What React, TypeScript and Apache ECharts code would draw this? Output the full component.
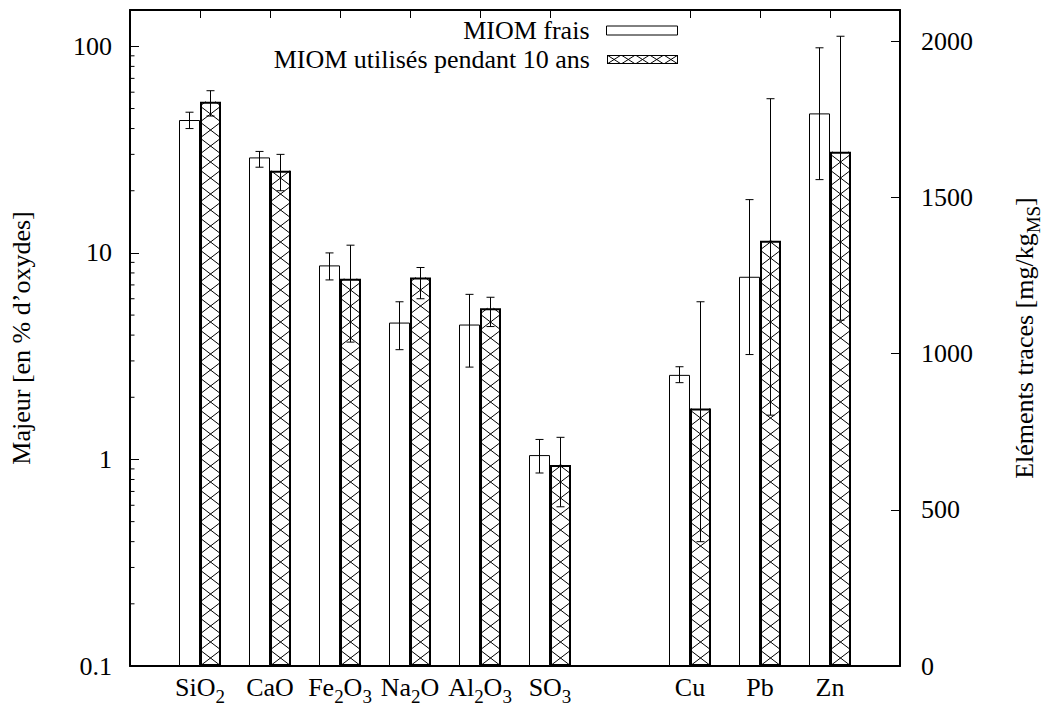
import React, { useEffect, useRef } from 'react';
import * as echarts from 'echarts';

// ---- data ----
const categories = ['', 'SiO2', 'CaO', 'Fe2O3', 'Na2O', 'Al2O3', 'SO3', '', 'Cu', 'Pb', 'Zn', ''];
const oxideIdx = [1, 2, 3, 4, 5, 6];
const metalIdx = [8, 9, 10];

const fraisOx = [44, 29, 8.7, 4.6, 4.5, 1.05];
const fraisOxLow = [40, 26, 7.4, 3.4, 2.8, 0.86];
const fraisOxHigh = [48, 31, 10, 5.8, 6.3, 1.25];
const usedOx = [54, 25, 7.5, 7.6, 5.4, 0.94];
const usedOxLow = [46, 20, 3.7, 6.0, 4.4, 0.59];
const usedOxHigh = [61, 30, 10.9, 8.5, 6.1, 1.28];

const fraisMet = [932, 1246, 1769];
const fraisMetLow = [907, 997, 1557];
const fraisMetHigh = [958, 1493, 1979];
const usedMet = [824, 1361, 1646];
const usedMetLow = [398, 803, 1107];
const usedMetHigh = [1166, 1816, 2016];

const minorTickValues = [0.2, 0.3, 0.4, 0.5, 0.6, 0.7, 0.8, 0.9, 2, 3, 4, 5, 6, 7, 8, 9, 20, 30, 40, 50, 60, 70, 80, 90];

const NAME_FRAIS = 'MIOM frais';
const NAME_USED = 'MIOM utilisés pendant 10 ans';

const FONT = 'Liberation Serif';
const FS = 26;

function fullSeries(idx: number[], vals: number[]) {
  const out: any[] = categories.map(() => '-');
  idx.forEach((i, k) => (out[i] = vals[k]));
  return out;
}
function pairs(idx: number[], vals: number[]) {
  return idx.map((i, k) => [i, vals[k]]);
}
function triples(idx: number[], lo: number[], hi: number[]) {
  return idx.map((i, k) => [i, lo[k], hi[k]]);
}

const lineStyle = { stroke: '#000', lineWidth: 1 };

function hatchItem(base: number) {
  return (params: any, api: any) => {
    const idx = api.value(0);
    const v = api.value(1);
    const top = api.coord([idx, v]);
    const bot = api.coord([idx, base]);
    const step = Math.abs(api.coord([1, v])[0] - api.coord([0, v])[0]);
    const w = step * 0.3;
    const x0 = top[0];
    const x1 = x0 + w;
    const yT = top[1];
    const yB = bot[1];
    const h = 16;
    const children: any[] = [];
    for (let y = yB; y > yT + 0.01; y -= h) {
      const yN = y - h;
      if (yN >= yT) {
        children.push({ type: 'line', shape: { x1: x0, y1: y, x2: x1, y2: yN }, style: lineStyle });
        children.push({ type: 'line', shape: { x1: x1, y1: y, x2: x0, y2: yN }, style: lineStyle });
      } else {
        const t = (y - yT) / h;
        children.push({ type: 'line', shape: { x1: x0, y1: y, x2: x0 + t * w, y2: yT }, style: lineStyle });
        children.push({ type: 'line', shape: { x1: x1, y1: y, x2: x1 - t * w, y2: yT }, style: lineStyle });
      }
    }
    return { type: 'group', children, silent: true };
  };
}

function errItem(sign: number) {
  return (params: any, api: any) => {
    const idx = api.value(0);
    const lo = api.coord([idx, api.value(1)]);
    const hi = api.coord([idx, api.value(2)]);
    const step = Math.abs(api.coord([1, api.value(1)])[0] - api.coord([0, api.value(1)])[0]);
    const x = lo[0] + sign * step * 0.15;
    const cap = 4;
    return {
      type: 'group',
      silent: true,
      children: [
        { type: 'line', shape: { x1: x, y1: lo[1], x2: x, y2: hi[1] }, style: lineStyle },
        { type: 'line', shape: { x1: x - cap, y1: lo[1], x2: x + cap, y2: lo[1] }, style: lineStyle },
        { type: 'line', shape: { x1: x - cap, y1: hi[1], x2: x + cap, y2: hi[1] }, style: lineStyle },
      ],
    };
  };
}

function minorTickItem(params: any, api: any) {
  const p = api.coord([0, api.value(0)]);
  return { type: 'line', silent: true, shape: { x1: p[0], y1: p[1], x2: p[0] + 4.5, y2: p[1] }, style: lineStyle };
}

function hatchIcon(): string {
  const W = 71, H = 9, n = 5;
  const cw = W / n;
  let lines = '';
  for (let i = 0; i < n; i++) {
    const a = i * cw, b = (i + 1) * cw;
    lines += `<line x1="${a}" y1="0" x2="${b}" y2="${H}" stroke="black" stroke-width="1"/>`;
    lines += `<line x1="${b}" y1="0" x2="${a}" y2="${H}" stroke="black" stroke-width="1"/>`;
  }
  const svg = `<svg xmlns="http://www.w3.org/2000/svg" width="${W}" height="${H}" viewBox="0 0 ${W} ${H}"><rect x="0.5" y="0.5" width="${W - 1}" height="${H - 1}" fill="white" stroke="black" stroke-width="1"/>${lines}</svg>`;
  return 'image://data:image/svg+xml;charset=utf-8,' + encodeURIComponent(svg);
}

const subFormat = (s: string) => {
  if (!s) return '';
  return s
    .split(/(\d+)/)
    .filter((p) => p !== '')
    .map((p) => (/^\d+$/.test(p) ? `{s|${p}}` : `{a|${p}}`))
    .join('');
};

const richSub = {
  a: { fontSize: FS, fontFamily: FONT, color: '#000', lineHeight: 28, verticalAlign: 'top' },
  s: { fontSize: 19, fontFamily: FONT, color: '#000', lineHeight: 19, padding: [13, 0, 0, 0], verticalAlign: 'top' },
};

const tickShow = (index: number, value: string) => value !== '';

export default function App() {
  const ref = useRef<HTMLDivElement>(null);
  useEffect(() => {
    document.body.style.margin = '0';
    if (!ref.current) return;
    const chart = echarts.init(ref.current, undefined, { renderer: 'svg' });
    const legendCommon = {
      orient: 'vertical',
      align: 'right',
      right: 373,
      padding: 0,
      itemWidth: 71,
      itemHeight: 9,
      selectedMode: false,
      textStyle: { fontSize: FS, fontFamily: FONT, color: '#000', padding: [0, 12, 0, 0], lineHeight: 24 },
    };
    const option: any = {
      animation: false,
      backgroundColor: '#fff',
      textStyle: { fontFamily: FONT, color: '#000' },
      grid: { left: 130, right: 140, top: 10, bottom: 43, containLabel: false },
      legend: [
        {
          ...legendCommon,
          top: 17.5,
          data: [{ name: NAME_FRAIS, icon: 'rect', itemStyle: { color: '#fff', borderColor: '#000', borderWidth: 1 } }],
        },
        {
          ...legendCommon,
          top: 46.5,
          data: [{ name: NAME_USED, icon: hatchIcon() }],
        },
      ],
      xAxis: [
        {
          type: 'category',
          position: 'bottom',
          data: categories,
          boundaryGap: false,
          axisLine: { show: true, lineStyle: { color: '#000', width: 2 } },
          axisTick: { show: true, inside: true, length: 8, interval: tickShow, lineStyle: { color: '#000', width: 1 } },
          axisLabel: {
            interval: 0,
            margin: 8,
            fontFamily: FONT,
            fontSize: FS,
            color: '#000',
            formatter: (v: string) => subFormat(v),
            rich: richSub,
          },
          splitLine: { show: false },
        },
        {
          type: 'category',
          position: 'top',
          data: categories,
          boundaryGap: false,
          axisLine: { show: true, lineStyle: { color: '#000', width: 2 } },
          axisTick: { show: true, inside: true, length: 8, interval: tickShow, lineStyle: { color: '#000', width: 1 } },
          axisLabel: { show: false },
          splitLine: { show: false },
        },
      ],
      yAxis: [
        {
          type: 'log',
          logBase: 10,
          min: 0.1,
          max: 150,
          startValue: 0.1,
          position: 'left',
          name: 'Majeur [en % d\u2019oxydes]',
          nameLocation: 'middle',
          nameRotate: 90,
          nameGap: 96,
          nameTextStyle: { fontSize: FS, fontFamily: FONT, color: '#000' },
          axisLine: { show: true, lineStyle: { color: '#000', width: 2 } },
          axisTick: { show: true, inside: true, length: 9, lineStyle: { color: '#000', width: 1 } },
          minorTick: { show: false },
          axisLabel: {
            showMaxLabel: false,
            margin: 18,
            fontSize: FS,
            fontFamily: FONT,
            color: '#000',
            formatter: (v: number) => String(Number(v.toPrecision(3))),
          },
          splitLine: { show: false },
        },
        {
          type: 'value',
          min: 0,
          max: 2100,
          interval: 500,
          position: 'right',
          name: '{a|Eléments traces [mg/kg}{s|MS}{a|]}',
          nameLocation: 'middle',
          nameRotate: 90,
          nameGap: 111,
          nameTextStyle: { fontSize: FS, fontFamily: FONT, color: '#000', rich: richSub },
          axisLine: { show: true, lineStyle: { color: '#000', width: 2 } },
          axisTick: { show: true, inside: true, length: 9, lineStyle: { color: '#000', width: 1 } },
          axisLabel: {
            showMaxLabel: false,
            margin: 21,
            fontSize: FS,
            fontFamily: FONT,
            color: '#000',
            formatter: (v: number) => String(v),
          },
          splitLine: { show: false },
        },
      ],
      series: [
        {
          name: NAME_FRAIS,
          type: 'bar',
          xAxisIndex: 0,
          yAxisIndex: 0,
          barWidth: '30%',
          barGap: '0%',
          data: fullSeries(oxideIdx, fraisOx),
          itemStyle: { color: '#fff', borderColor: '#000', borderWidth: 1 },
          emphasis: { disabled: true },
        },
        {
          name: NAME_USED,
          type: 'bar',
          xAxisIndex: 0,
          yAxisIndex: 0,
          barWidth: '30%',
          barGap: '0%',
          data: fullSeries(oxideIdx, usedOx),
          itemStyle: { color: '#fff', borderColor: '#000', borderWidth: 2 },
          emphasis: { disabled: true },
        },
        {
          name: NAME_FRAIS,
          type: 'bar',
          xAxisIndex: 1,
          yAxisIndex: 1,
          barWidth: '30%',
          barGap: '0%',
          data: fullSeries(metalIdx, fraisMet),
          itemStyle: { color: '#fff', borderColor: '#000', borderWidth: 1 },
          emphasis: { disabled: true },
        },
        {
          name: NAME_USED,
          type: 'bar',
          xAxisIndex: 1,
          yAxisIndex: 1,
          barWidth: '30%',
          barGap: '0%',
          data: fullSeries(metalIdx, usedMet),
          itemStyle: { color: '#fff', borderColor: '#000', borderWidth: 2 },
          emphasis: { disabled: true },
        },
        {
          type: 'custom',
          xAxisIndex: 0,
          yAxisIndex: 0,
          renderItem: hatchItem(0.1),
          data: pairs(oxideIdx, usedOx),
          encode: { x: 0, y: 1 },
          z: 3,
        },
        {
          type: 'custom',
          xAxisIndex: 1,
          yAxisIndex: 1,
          renderItem: hatchItem(0),
          data: pairs(metalIdx, usedMet),
          encode: { x: 0, y: 1 },
          z: 3,
        },
        {
          type: 'custom',
          xAxisIndex: 0,
          yAxisIndex: 0,
          renderItem: errItem(-1),
          data: triples(oxideIdx, fraisOxLow, fraisOxHigh),
          encode: { x: 0, y: [1, 2] },
          z: 4,
        },
        {
          type: 'custom',
          xAxisIndex: 0,
          yAxisIndex: 0,
          renderItem: errItem(1),
          data: triples(oxideIdx, usedOxLow, usedOxHigh),
          encode: { x: 0, y: [1, 2] },
          z: 4,
        },
        {
          type: 'custom',
          xAxisIndex: 1,
          yAxisIndex: 1,
          renderItem: errItem(-1),
          data: triples(metalIdx, fraisMetLow, fraisMetHigh),
          encode: { x: 0, y: [1, 2] },
          z: 4,
        },
        {
          type: 'custom',
          xAxisIndex: 1,
          yAxisIndex: 1,
          renderItem: errItem(1),
          data: triples(metalIdx, usedMetLow, usedMetHigh),
          encode: { x: 0, y: [1, 2] },
          z: 4,
        },
        {
          type: 'custom',
          xAxisIndex: 0,
          yAxisIndex: 0,
          renderItem: minorTickItem,
          data: minorTickValues.map((v) => [v]),
          encode: { y: 0 },
          z: 5,
        },
      ],
    };
    chart.setOption(option);
    return () => chart.dispose();
  }, []);
  return <div ref={ref} style={{ width: 1051, height: 709 }} />;
}
